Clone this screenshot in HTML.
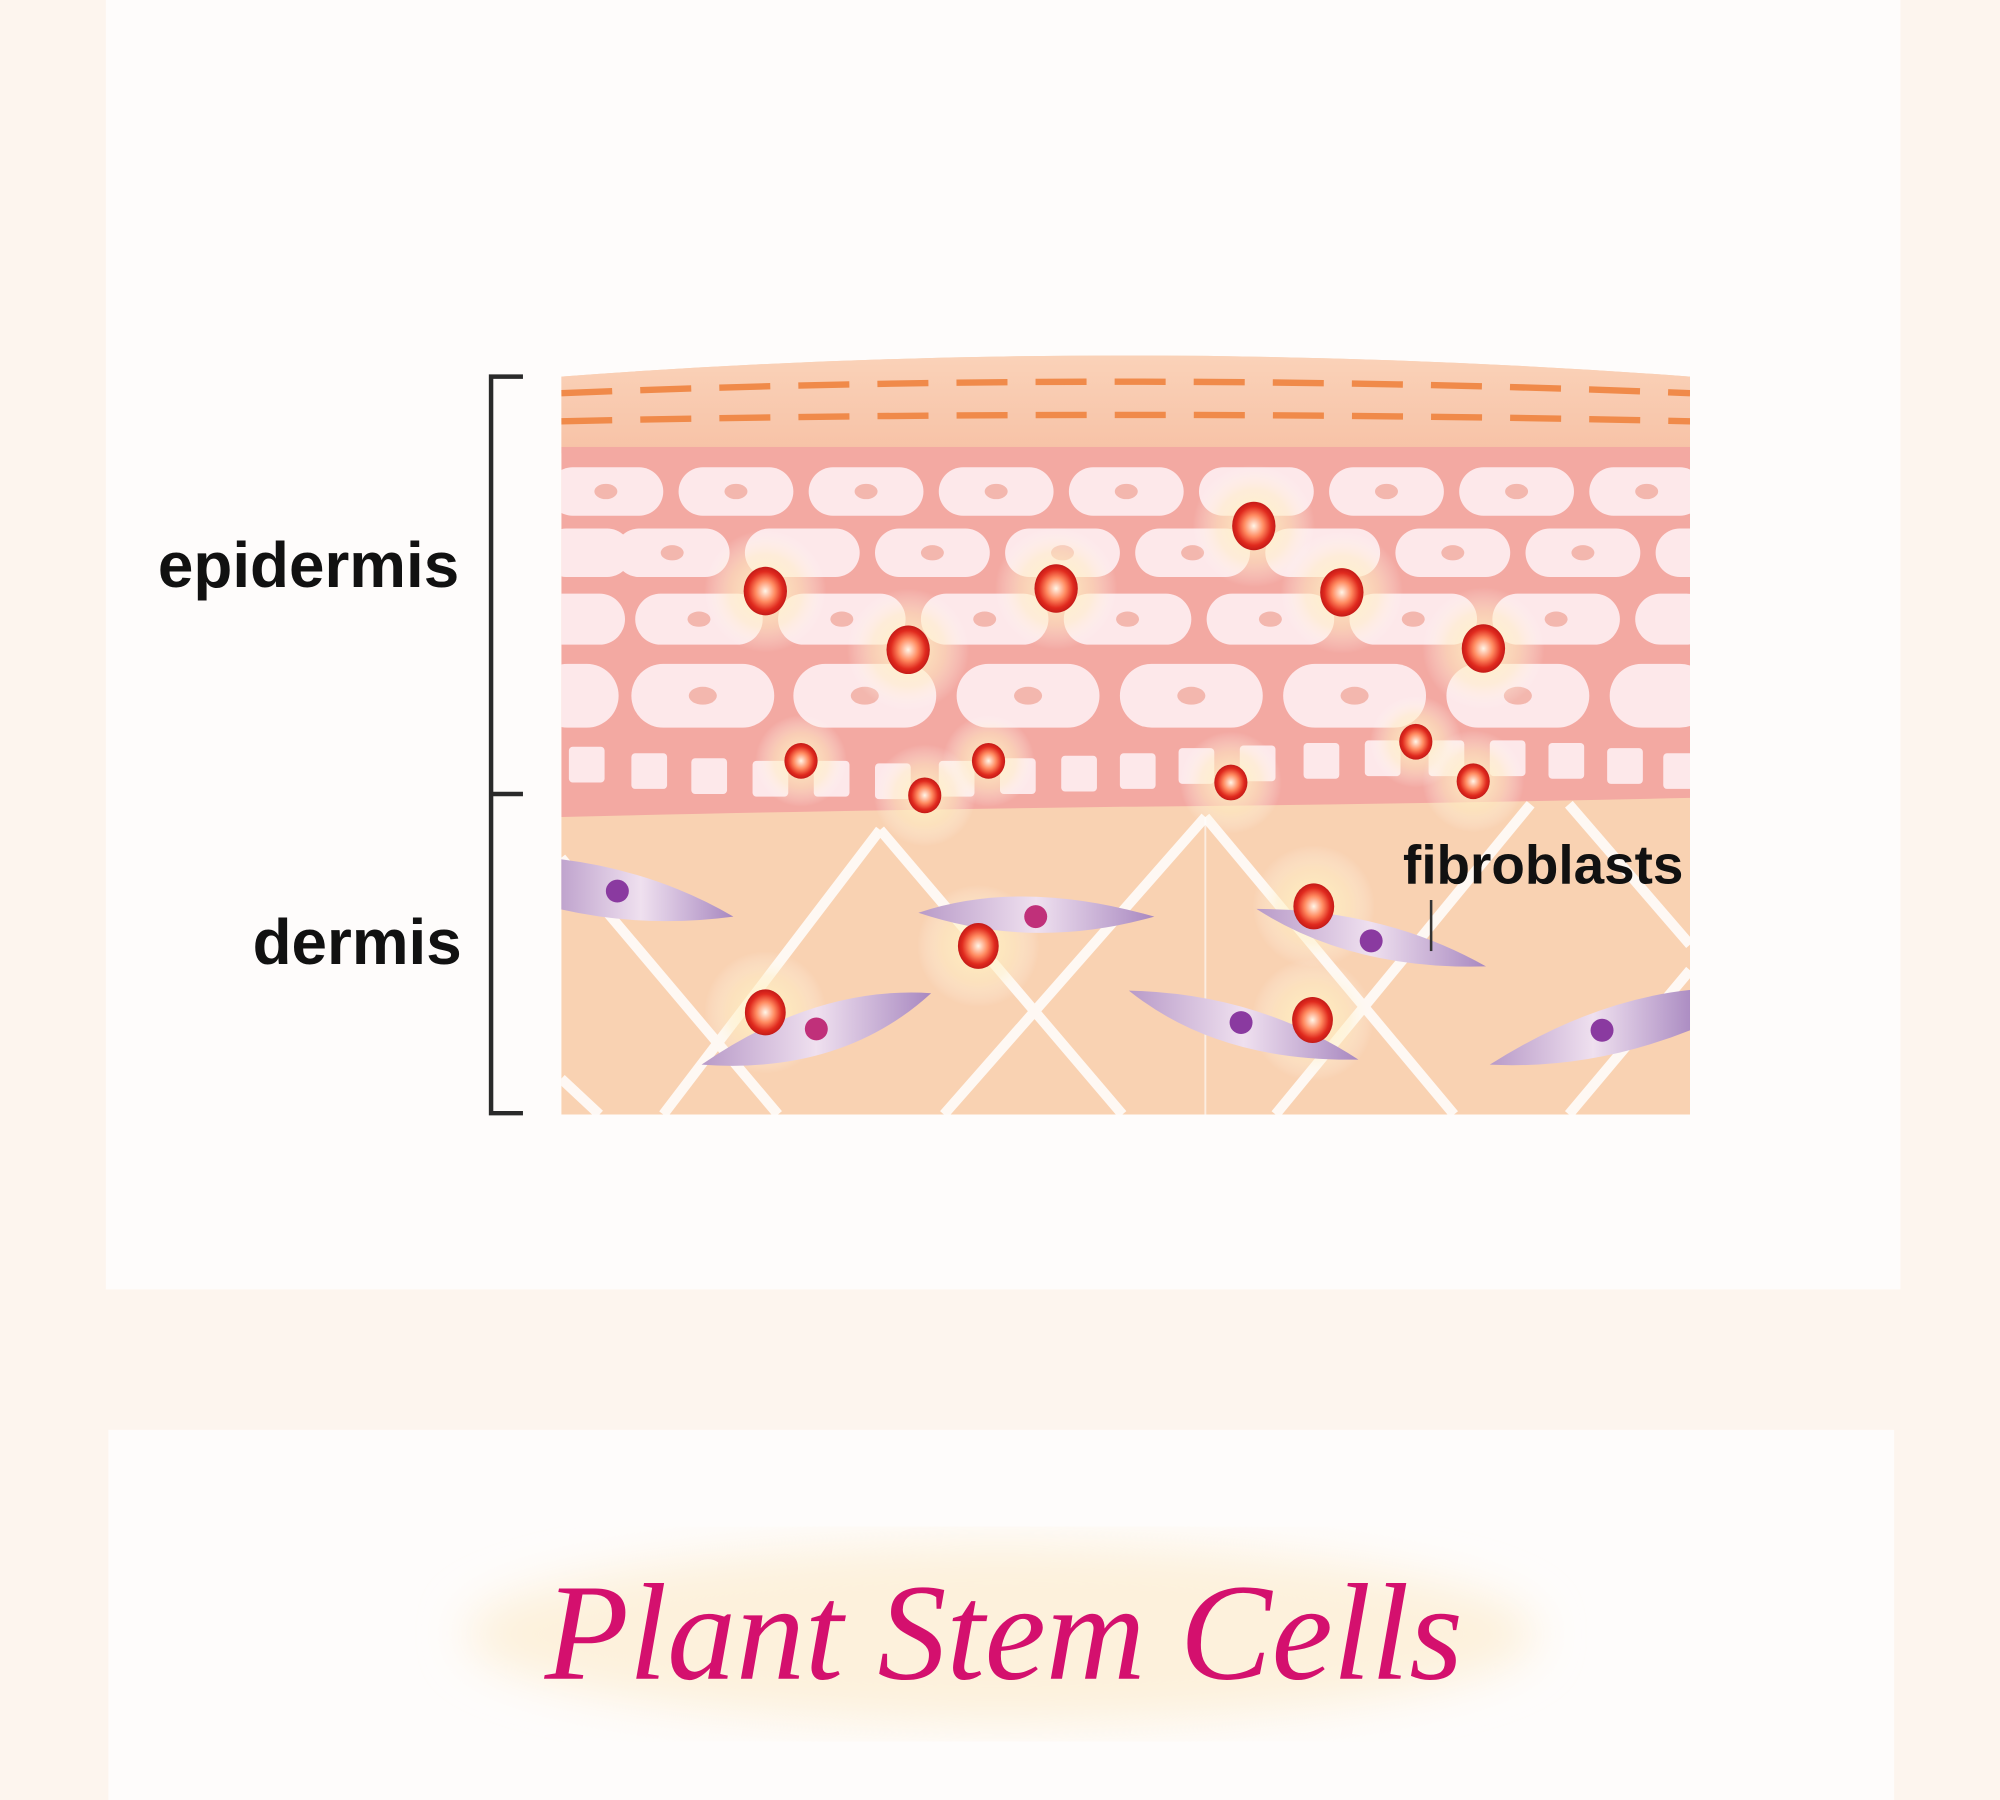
<!DOCTYPE html>
<html><head><meta charset="utf-8"><style>
html,body{margin:0;padding:0;background:#fdf5ee;}
svg{display:block}
</style></head><body>
<svg width="2000" height="1800" viewBox="0 0 1568 1410" preserveAspectRatio="none" xmlns="http://www.w3.org/2000/svg">
<defs>
<clipPath id="skin"><path d="M440 295 Q880 262 1325 295 L1325 873 L440 873 Z"/></clipPath>
<clipPath id="epi"><path d="M440 350 L1325 350 L1325 625 Q1100 630 880 632 Q640 635 440 640 Z"/></clipPath>
<radialGradient id="dot" cx="50%" cy="50%" r="50%">
<stop offset="0" stop-color="#fff6e8"/><stop offset="0.45" stop-color="#ff8a60"/><stop offset="0.8" stop-color="#e02a1e"/><stop offset="1" stop-color="#c41a18"/></radialGradient>
<radialGradient id="glow" cx="50%" cy="50%" r="50%">
<stop offset="0" stop-color="#fff3c0" stop-opacity="0.95"/><stop offset="0.6" stop-color="#fff0c8" stop-opacity="0.5"/><stop offset="1" stop-color="#fff" stop-opacity="0"/></radialGradient>
<linearGradient id="fib" x1="0" y1="0" x2="1" y2="0">
<stop offset="0" stop-color="#b89ac8"/><stop offset="0.5" stop-color="#efe0ef"/><stop offset="1" stop-color="#a888c0"/></linearGradient>
<linearGradient id="sc" x1="0" y1="0" x2="0" y2="1">
<stop offset="0" stop-color="#fbd6bd"/><stop offset="1" stop-color="#f7c2a6"/></linearGradient>
<filter id="bl"><feGaussianBlur stdDeviation="18"/></filter>
</defs>
<rect x="83" y="0" width="1407" height="1010" fill="#fefcfb"/>
<rect x="85" y="1120" width="1400" height="290" fill="#fefcfb"/>
<ellipse cx="785" cy="1280" rx="420" ry="70" fill="#fdf1dc" filter="url(#bl)"/>
<text x="787" y="1315" text-anchor="middle" font-family="Liberation Serif, serif" font-style="italic" font-size="108" fill="#d4106e">Plant Stem Cells</text>

<g clip-path="url(#skin)">
<rect x="440" y="260" width="885" height="620" fill="#f9d2b2"/>
<rect x="440" y="260" width="885" height="95" fill="url(#sc)"/>
<g stroke="#f08a4a" stroke-width="5" stroke-dasharray="40 22" fill="none">
<path d="M440 308 Q880 290 1325 308"/>
<path d="M440 330 Q880 320 1325 330"/>
</g>
<g stroke="#fff" stroke-width="8" fill="none" opacity="0.85">
<path d="M440 672 L610 873"/>
<path d="M690 650 L520 873"/><path d="M690 650 L880 873"/>
<path d="M945 640 L740 873"/><path d="M945 640 L1140 873"/>
<path d="M1200 630 L1000 873"/><path d="M1230 630 L1325 740"/>
<path d="M1325 760 L1230 873"/>
<path d="M440 845 L470 873"/>
</g>
<line x1="945" y1="640" x2="945" y2="873" stroke="#fff" stroke-width="1.5" opacity="0.6"/>
<g clip-path="url(#epi)">
<rect x="440" y="350" width="885" height="300" fill="#f3a9a2"/>
<g fill="#fde8ea">
<rect x="430" y="366" width="90" height="38" rx="19"/><rect x="532" y="366" width="90" height="38" rx="19"/><rect x="634" y="366" width="90" height="38" rx="19"/><rect x="736" y="366" width="90" height="38" rx="19"/><rect x="838" y="366" width="90" height="38" rx="19"/><rect x="940" y="366" width="90" height="38" rx="19"/><rect x="1042" y="366" width="90" height="38" rx="19"/><rect x="1144" y="366" width="90" height="38" rx="19"/><rect x="1246" y="366" width="90" height="38" rx="19"/>
<rect x="425" y="414" width="70" height="38" rx="19"/><rect x="482" y="414" width="90" height="38" rx="19"/><rect x="584" y="414" width="90" height="38" rx="19"/><rect x="686" y="414" width="90" height="38" rx="19"/><rect x="788" y="414" width="90" height="38" rx="19"/><rect x="890" y="414" width="90" height="38" rx="19"/><rect x="992" y="414" width="90" height="38" rx="19"/><rect x="1094" y="414" width="90" height="38" rx="19"/><rect x="1196" y="414" width="90" height="38" rx="19"/><rect x="1298" y="414" width="60" height="38" rx="19"/>
<rect x="420" y="465" width="70" height="40" rx="20"/><rect x="498" y="465" width="100" height="40" rx="20"/><rect x="610" y="465" width="100" height="40" rx="20"/><rect x="722" y="465" width="100" height="40" rx="20"/><rect x="834" y="465" width="100" height="40" rx="20"/><rect x="946" y="465" width="100" height="40" rx="20"/><rect x="1058" y="465" width="100" height="40" rx="20"/><rect x="1170" y="465" width="100" height="40" rx="20"/><rect x="1282" y="465" width="60" height="40" rx="20"/>
<rect x="420" y="520" width="65" height="50" rx="25"/><rect x="495" y="520" width="112" height="50" rx="25"/><rect x="622" y="520" width="112" height="50" rx="25"/><rect x="750" y="520" width="112" height="50" rx="25"/><rect x="878" y="520" width="112" height="50" rx="25"/><rect x="1006" y="520" width="112" height="50" rx="25"/><rect x="1134" y="520" width="112" height="50" rx="25"/><rect x="1262" y="520" width="80" height="50" rx="25"/>
</g>
<g fill="#f3b7ae">
<ellipse cx="475" cy="385" rx="9" ry="6"/><ellipse cx="577" cy="385" rx="9" ry="6"/><ellipse cx="679" cy="385" rx="9" ry="6"/><ellipse cx="781" cy="385" rx="9" ry="6"/><ellipse cx="883" cy="385" rx="9" ry="6"/><ellipse cx="1087" cy="385" rx="9" ry="6"/><ellipse cx="1189" cy="385" rx="9" ry="6"/><ellipse cx="1291" cy="385" rx="9" ry="6"/>
<ellipse cx="527" cy="433" rx="9" ry="6"/><ellipse cx="731" cy="433" rx="9" ry="6"/><ellipse cx="833" cy="433" rx="9" ry="6"/><ellipse cx="935" cy="433" rx="9" ry="6"/><ellipse cx="1139" cy="433" rx="9" ry="6"/><ellipse cx="1241" cy="433" rx="9" ry="6"/>
<ellipse cx="548" cy="485" rx="9" ry="6"/><ellipse cx="660" cy="485" rx="9" ry="6"/><ellipse cx="772" cy="485" rx="9" ry="6"/><ellipse cx="884" cy="485" rx="9" ry="6"/><ellipse cx="996" cy="485" rx="9" ry="6"/><ellipse cx="1108" cy="485" rx="9" ry="6"/><ellipse cx="1220" cy="485" rx="9" ry="6"/>
<ellipse cx="551" cy="545" rx="11" ry="7"/><ellipse cx="678" cy="545" rx="11" ry="7"/><ellipse cx="806" cy="545" rx="11" ry="7"/><ellipse cx="934" cy="545" rx="11" ry="7"/><ellipse cx="1062" cy="545" rx="11" ry="7"/><ellipse cx="1190" cy="545" rx="11" ry="7"/>
</g>
<g fill="#fde8ea">
<rect x="446" y="585" width="28" height="28" rx="3"/><rect x="495" y="590" width="28" height="28" rx="3"/><rect x="542" y="594" width="28" height="28" rx="3"/><rect x="590" y="596" width="28" height="28" rx="3"/><rect x="638" y="596" width="28" height="28" rx="3"/><rect x="686" y="598" width="28" height="28" rx="3"/><rect x="736" y="596" width="28" height="28" rx="3"/><rect x="784" y="594" width="28" height="28" rx="3"/><rect x="832" y="592" width="28" height="28" rx="3"/><rect x="878" y="590" width="28" height="28" rx="3"/><rect x="924" y="586" width="28" height="28" rx="3"/><rect x="972" y="584" width="28" height="28" rx="3"/><rect x="1022" y="582" width="28" height="28" rx="3"/><rect x="1070" y="580" width="28" height="28" rx="3"/><rect x="1120" y="580" width="28" height="28" rx="3"/><rect x="1168" y="580" width="28" height="28" rx="3"/><rect x="1214" y="582" width="28" height="28" rx="3"/><rect x="1260" y="586" width="28" height="28" rx="3"/><rect x="1304" y="590" width="28" height="28" rx="3"/>
</g>
</g>
<g fill="url(#glow)">
<circle cx="600" cy="463" r="48"/><circle cx="828" cy="461" r="48"/><circle cx="983" cy="412" r="48"/><circle cx="1052" cy="464" r="48"/><circle cx="712" cy="509" r="48"/><circle cx="1163" cy="508" r="48"/>
<circle cx="628" cy="596" r="36"/><circle cx="775" cy="596" r="36"/><circle cx="725" cy="623" r="40"/><circle cx="965" cy="613" r="40"/><circle cx="1110" cy="581" r="36"/><circle cx="1155" cy="612" r="40"/>
<circle cx="1030" cy="710" r="48"/><circle cx="767" cy="741" r="48"/><circle cx="600" cy="793" r="48"/><circle cx="1029" cy="799" r="48"/>
</g>
<g fill="url(#fib)">
<path d="M430 672 Q510 680 575 718 Q500 728 430 710 Z"/>
<path d="M720 715 Q800 688 905 718 Q810 745 720 715 Z"/>
<path d="M985 712 Q1085 712 1165 757 Q1060 760 985 712 Z"/>
<path d="M550 834 Q640 772 730 778 Q660 842 550 834 Z"/>
<path d="M885 776 Q985 778 1065 830 Q955 832 885 776 Z"/>
<path d="M1168 834 Q1250 782 1330 775 L1330 805 Q1250 838 1168 834 Z"/>
</g>
<g fill="#8a3aa0">
<circle cx="484" cy="698" r="9"/><circle cx="812" cy="718" r="9" fill="#c0307a"/><circle cx="1075" cy="737" r="9"/><circle cx="640" cy="806" r="9" fill="#c0307a"/><circle cx="973" cy="801" r="9"/><circle cx="1256" cy="807" r="9"/>
</g>
<g fill="url(#dot)">
<ellipse cx="600" cy="463" rx="17" ry="19"/><ellipse cx="828" cy="461" rx="17" ry="19"/><ellipse cx="983" cy="412" rx="17" ry="19"/><ellipse cx="1052" cy="464" rx="17" ry="19"/><ellipse cx="712" cy="509" rx="17" ry="19"/><ellipse cx="1163" cy="508" rx="17" ry="19"/>
<ellipse cx="628" cy="596" rx="13" ry="14"/><ellipse cx="775" cy="596" rx="13" ry="14"/><ellipse cx="725" cy="623" rx="13" ry="14"/><ellipse cx="965" cy="613" rx="13" ry="14"/><ellipse cx="1110" cy="581" rx="13" ry="14"/><ellipse cx="1155" cy="612" rx="13" ry="14"/>
<ellipse cx="1030" cy="710" rx="16" ry="18"/><ellipse cx="767" cy="741" rx="16" ry="18"/><ellipse cx="600" cy="793" rx="16" ry="18"/><ellipse cx="1029" cy="799" rx="16" ry="18"/>
</g>
</g>
<g stroke="#2a2a2a" stroke-width="3.5" fill="none">
<path d="M410 295 L385 295 L385 872 L410 872"/>
<path d="M385 622 L410 622"/>
</g>
<g font-family="Liberation Sans, sans-serif" fill="#111" font-weight="bold">
<text x="360" y="460" text-anchor="end" font-size="50">epidermis</text>
<text x="362" y="755" text-anchor="end" font-size="50">dermis</text>
<text x="1100" y="692" font-size="43">fibroblasts</text>
</g>
<line x1="1122" y1="705" x2="1122" y2="745" stroke="#333" stroke-width="2"/>
</svg>
</body></html>
